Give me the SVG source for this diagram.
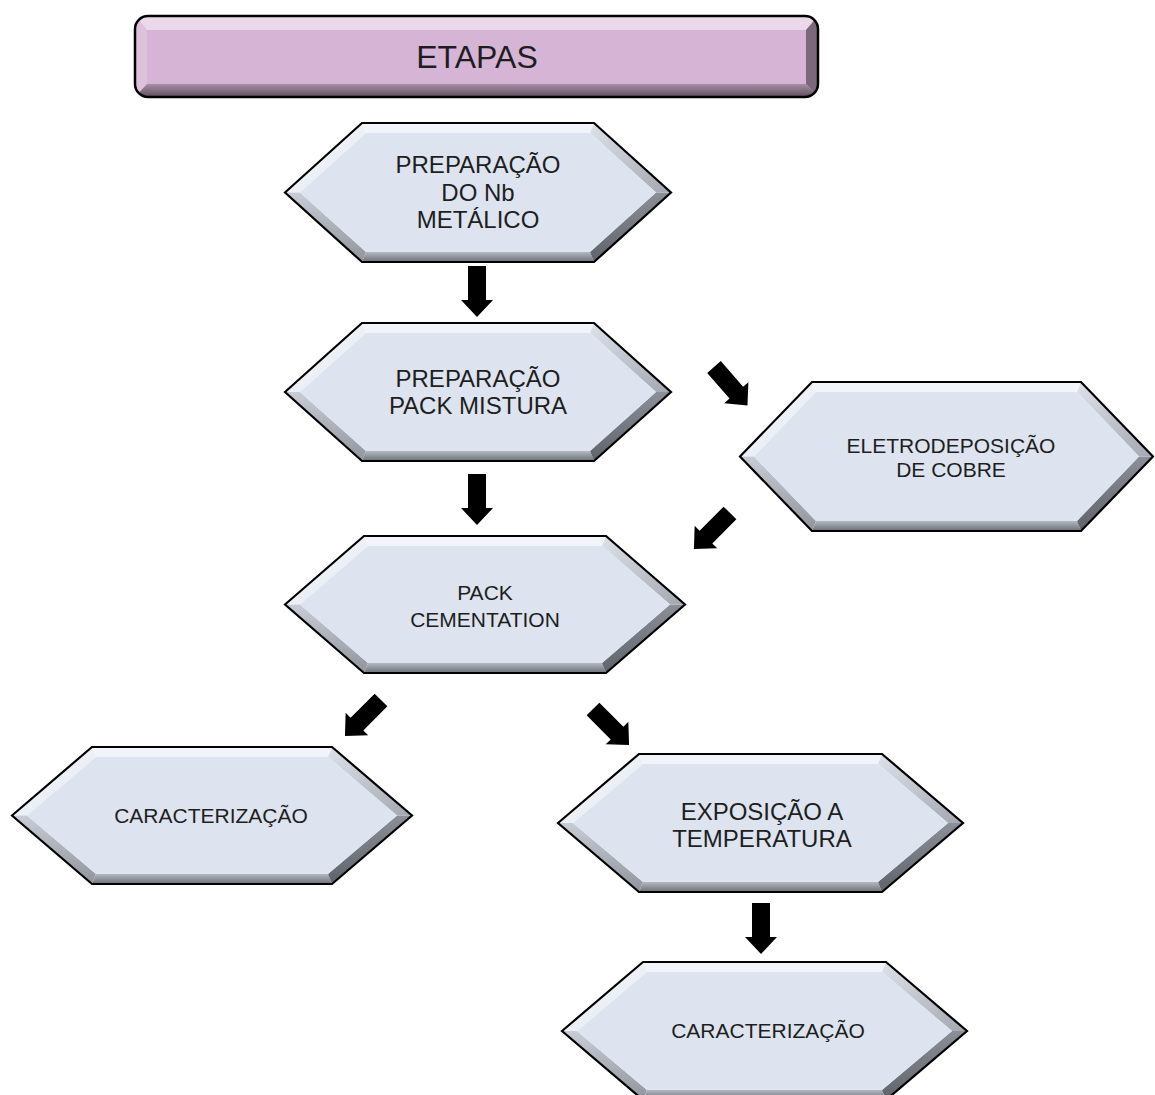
<svg xmlns="http://www.w3.org/2000/svg" xmlns:xlink="http://www.w3.org/1999/xlink" width="1155" height="1095" viewBox="0 0 1155 1095">
<style>
.t{font-family:"Liberation Sans",Arial,sans-serif;fill:#1e1e1e;text-anchor:middle}
.f{fill:#dde4ef}
.ft{fill:#f1f4f9}
.ful{fill:url(#gUL)}
.fll{fill:url(#gLL)}
.fb{fill:url(#gB)}
.flr{fill:url(#gLR)}
.fur{fill:url(#gUR)}
.o{fill:none;stroke:#000;stroke-width:2.2;stroke-linejoin:miter}
.arr{fill:#000}
</style>
<defs>
<linearGradient id="gUL" x1="0" y1="0" x2="1" y2="1"><stop offset="0" stop-color="#f7f9fc"/><stop offset="1" stop-color="#e3e8f0"/></linearGradient>
<linearGradient id="gLL" x1="0" y1="0" x2="0" y2="1"><stop offset="0" stop-color="#c7ccd5"/><stop offset="1" stop-color="#8f949d"/></linearGradient>
<linearGradient id="gB" x1="0" y1="0" x2="0" y2="1"><stop offset="0" stop-color="#b3b8c1"/><stop offset="1" stop-color="#6c7178"/></linearGradient>
<linearGradient id="gLR" x1="0" y1="0" x2="0" y2="1"><stop offset="0" stop-color="#8a8f98"/><stop offset="1" stop-color="#5f636a"/></linearGradient>
<linearGradient id="gUR" x1="0" y1="0" x2="1" y2="1"><stop offset="0" stop-color="#dde2ea"/><stop offset="1" stop-color="#a2a7b0"/></linearGradient>
<linearGradient id="gEB" x1="0" y1="0" x2="0" y2="1"><stop offset="0" stop-color="#a88ea7"/><stop offset="1" stop-color="#5e4f5d"/></linearGradient>
<clipPath id="cE"><rect x="135" y="16" width="683" height="81" rx="13"/></clipPath>
<path id="arrow" d="M-9 0 L9 0 L9 34 L16 34 L0 51 L-16 34 L-9 34 Z"/>
</defs>

<g id="etapas">
<g clip-path="url(#cE)">
<rect x="135" y="16" width="683" height="81" fill="#d6b4d6"/>
<polygon points="135,16 818,16 806,30 147,30" fill="#ebd9ea"/>
<polygon points="135,16 147,30 147,84 135,97" fill="#dcc2db"/>
<polygon points="818,16 818,97 806,84 806,30" fill="#7c687b"/>
<polygon points="147,84 806,84 818,97 135,97" fill="url(#gEB)"/>
<rect x="147" y="30" width="659" height="54" fill="#d6b4d6"/>
</g>
<rect x="135" y="16" width="683" height="81" rx="13" fill="none" stroke="#000" stroke-width="2.5"/>
<text class="t" x="477" y="68" font-size="32">ETAPAS</text>
</g>

<g id="n1">
<polygon class="ft" points="362,123 594,123 590,133 366,133"/>
<polygon class="ful" points="285,192.5 362,123 366,133 300,192.5"/>
<polygon class="fll" points="285,192.5 300,192.5 366,252 362,262"/>
<polygon class="fb" points="366,252 590,252 594,262 362,262"/>
<polygon class="flr" points="656,192.5 671,192.5 594,262 590,252"/>
<polygon class="fur" points="590,133 594,123 671,192.5 656,192.5"/>
<polygon class="f" points="300,192.5 366,133 590,133 656,192.5 590,252 366,252"/>
<polygon class="o" points="285,192.5 362,123 594,123 671,192.5 594,262 362,262"/>
<text class="t" font-size="24"><tspan x="478" y="173">PREPARAÇÃO</tspan><tspan x="478" y="201">DO Nb</tspan><tspan x="478" y="228">METÁLICO</tspan></text>
</g>

<g id="n2">
<polygon class="ft" points="362,323 594,323 590,333 366,333"/>
<polygon class="ful" points="285,392 362,323 366,333 300,392"/>
<polygon class="fll" points="285,392 300,392 366,451 362,461"/>
<polygon class="fb" points="366,451 590,451 594,461 362,461"/>
<polygon class="flr" points="656,392 671,392 594,461 590,451"/>
<polygon class="fur" points="590,333 594,323 671,392 656,392"/>
<polygon class="f" points="300,392 366,333 590,333 656,392 590,451 366,451"/>
<polygon class="o" points="285,392 362,323 594,323 671,392 594,461 362,461"/>
<text class="t" font-size="24"><tspan x="478" y="387">PREPARAÇÃO</tspan><tspan x="478" y="414">PACK MISTURA</tspan></text>
</g>

<g id="n3">
<polygon class="ft" points="812,382 1081,382 1077,392 816,392"/>
<polygon class="ful" points="740,456.5 812,382 816,392 754,456.5"/>
<polygon class="fll" points="740,456.5 754,456.5 816,521 812,531"/>
<polygon class="fb" points="816,521 1077,521 1081,531 812,531"/>
<polygon class="flr" points="1139,456.5 1153,456.5 1081,531 1077,521"/>
<polygon class="fur" points="1077,392 1081,382 1153,456.5 1139,456.5"/>
<polygon class="f" points="754,456.5 816,392 1077,392 1139,456.5 1077,521 816,521"/>
<polygon class="o" points="740,456.5 812,382 1081,382 1153,456.5 1081,531 812,531"/>
<text class="t" font-size="21"><tspan x="951" y="453">ELETRODEPOSIÇÃO</tspan><tspan x="951" y="477">DE COBRE</tspan></text>
</g>

<g id="n4">
<polygon class="ft" points="364,536 606,536 602,546 368,546"/>
<polygon class="ful" points="285,604.5 364,536 368,546 300,604.5"/>
<polygon class="fll" points="285,604.5 300,604.5 368,663 364,673"/>
<polygon class="fb" points="368,663 602,663 606,673 364,673"/>
<polygon class="flr" points="670,604.5 685,604.5 606,673 602,663"/>
<polygon class="fur" points="602,546 606,536 685,604.5 670,604.5"/>
<polygon class="f" points="300,604.5 368,546 602,546 670,604.5 602,663 368,663"/>
<polygon class="o" points="285,604.5 364,536 606,536 685,604.5 606,673 364,673"/>
<text class="t" font-size="21"><tspan x="485" y="600">PACK</tspan><tspan x="485" y="627">CEMENTATION</tspan></text>
</g>

<g id="n5">
<polygon class="ft" points="92,747 332,747 328,757 96,757"/>
<polygon class="ful" points="12,815.5 92,747 96,757 27,815.5"/>
<polygon class="fll" points="12,815.5 27,815.5 96,874 92,884"/>
<polygon class="fb" points="96,874 328,874 332,884 92,884"/>
<polygon class="flr" points="397,815.5 412,815.5 332,884 328,874"/>
<polygon class="fur" points="328,757 332,747 412,815.5 397,815.5"/>
<polygon class="f" points="27,815.5 96,757 328,757 397,815.5 328,874 96,874"/>
<polygon class="o" points="12,815.5 92,747 332,747 412,815.5 332,884 92,884"/>
<text class="t" font-size="21" x="211" y="823">CARACTERIZAÇÃO</text>
</g>

<g id="n6">
<polygon class="ft" points="639,754 882,754 878,764 643,764"/>
<polygon class="ful" points="558,823 639,754 643,764 573,823"/>
<polygon class="fll" points="558,823 573,823 643,882 639,892"/>
<polygon class="fb" points="643,882 878,882 882,892 639,892"/>
<polygon class="flr" points="948,823 963,823 882,892 878,882"/>
<polygon class="fur" points="878,764 882,754 963,823 948,823"/>
<polygon class="f" points="573,823 643,764 878,764 948,823 878,882 643,882"/>
<polygon class="o" points="558,823 639,754 882,754 963,823 882,892 639,892"/>
<text class="t" font-size="24"><tspan x="762" y="820">EXPOSIÇÃO A</tspan><tspan x="762" y="847">TEMPERATURA</tspan></text>
</g>

<g id="n7">
<polygon class="ft" points="643,962 886,962 882,972 647,972"/>
<polygon class="ful" points="562,1031 643,962 647,972 577,1031"/>
<polygon class="fll" points="562,1031 577,1031 647,1090 643,1100"/>
<polygon class="fb" points="647,1090 882,1090 886,1100 643,1100"/>
<polygon class="flr" points="952,1031 967,1031 886,1100 882,1090"/>
<polygon class="fur" points="882,972 886,962 967,1031 952,1031"/>
<polygon class="f" points="577,1031 647,972 882,972 952,1031 882,1090 647,1090"/>
<polygon class="o" points="562,1031 643,962 886,962 967,1031 886,1100 643,1100"/>
<text class="t" font-size="21" x="768" y="1038">CARACTERIZAÇÃO</text>
</g>

<g id="connectors" class="arr">
<use xlink:href="#arrow" transform="translate(477,266)"/>
<use xlink:href="#arrow" transform="translate(477,474)"/>
<use xlink:href="#arrow" transform="translate(761,903)"/>
<use xlink:href="#arrow" transform="translate(714,367) rotate(-41)"/>
<use xlink:href="#arrow" transform="translate(730,513) rotate(45)"/>
<use xlink:href="#arrow" transform="translate(381,700) rotate(45)"/>
<use xlink:href="#arrow" transform="translate(593,709) rotate(-45)"/>
</g>
</svg>
